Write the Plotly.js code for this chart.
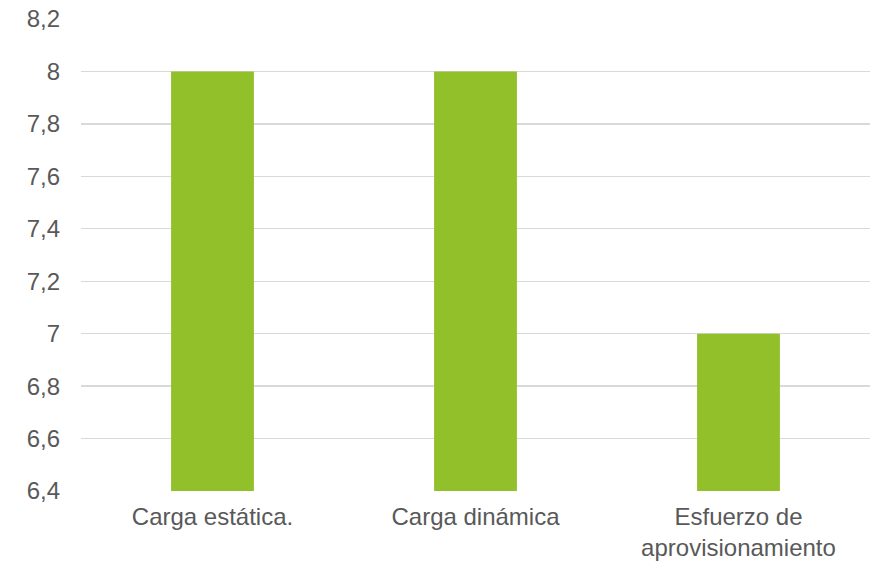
<!DOCTYPE html>
<html>
<head>
<meta charset="utf-8">
<script src="https://cdn.plot.ly/plotly-3.0.1.min.js"></script>
<style>html,body{margin:0;padding:0;background:#fff;}#chart{width:879px;height:563px;}</style>
</head>
<body>
<div id="chart"></div>
<script>
const categories = ["Carga estática.", "Carga dinámica", "Esfuerzo de<br>aprovisionamiento"];
const values = [8, 8, 7];
const yTicks = [6.4, 6.6, 6.8, 7, 7.2, 7.4, 7.6, 7.8, 8, 8.2];

const trace = {
  type: "bar",
  x: categories,
  y: values,
  marker: { color: "#92C02A" },
  hoverinfo: "x+y"
};

const layout = {
  width: 879,
  height: 563,
  margin: { l: 81, r: 9, t: 18.5, b: 71.5, pad: 0 },
  paper_bgcolor: "#ffffff",
  plot_bgcolor: "#ffffff",
  separators: ",.",
  bargap: 0.685,
  font: { family: "Liberation Sans, Arial, sans-serif", size: 24, color: "#595959" },
  showlegend: false,
  xaxis: {
    type: "category",
    showgrid: false,
    showline: false,
    zeroline: false,
    ticks: "outside",
    ticklen: 4,
    tickcolor: "rgba(0,0,0,0)",
    tickfont: { size: 24, color: "#595959" }
  },
  yaxis: {
    range: [6.4, 8.2],
    tickvals: yTicks,
    showgrid: true,
    gridcolor: "#d9d9d9",
    gridwidth: 1.3,
    zeroline: false,
    showline: false,
    ticks: "",
    ticklabelstandoff: 20,
    tickfont: { size: 24, color: "#595959" }
  }
};

Plotly.newPlot("chart", [trace], layout, { displayModeBar: false, staticPlot: true });
</script>
</body>
</html>
